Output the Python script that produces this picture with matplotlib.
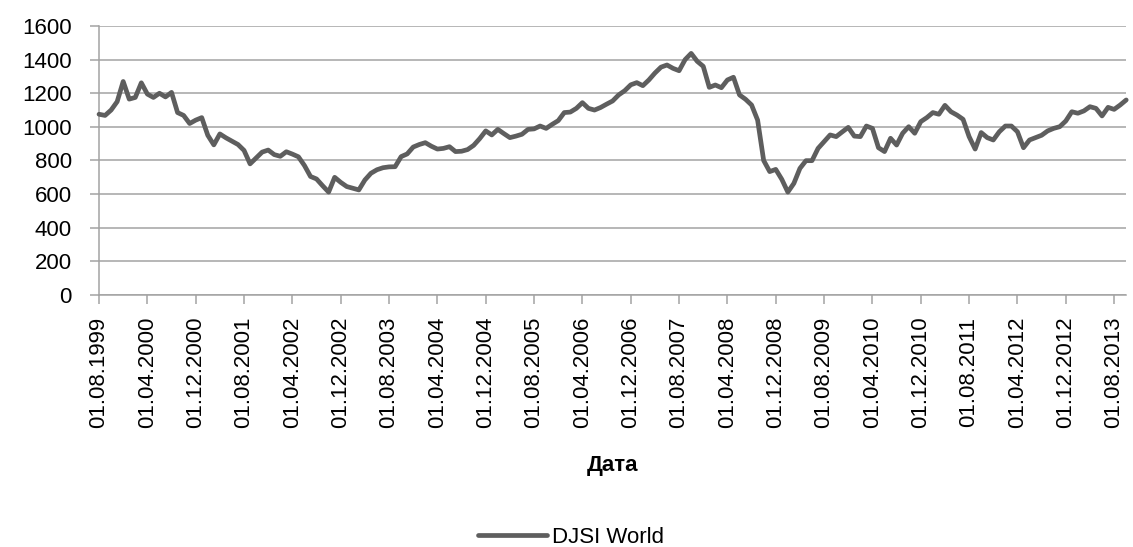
import matplotlib
matplotlib.use('Agg')
import matplotlib.pyplot as plt
import pandas as pd

# DJSI World, monthly values from 01.08.1999
djsi_world = [
    1075, 1068, 1100, 1150, 1270, 1165, 1175, 1262, 1195, 1175,
    1200, 1178, 1205, 1085, 1068, 1020, 1040, 1055, 950, 893,
    958, 935, 915, 895, 860, 780, 815, 850, 862, 835,
    825, 852, 838, 822, 770, 705, 690, 650, 612, 700,
    670, 645, 635, 625, 684, 724, 745, 757, 762, 763,
    823, 839, 880, 895, 906, 885, 868, 872, 882, 853,
    855, 865, 890, 930, 976, 952, 985, 960, 936, 945,
    956, 985, 988, 1005, 991, 1015, 1037, 1085, 1088, 1110,
    1144, 1110, 1100, 1115, 1135, 1154, 1190, 1215, 1250, 1263,
    1245, 1279, 1320, 1355, 1368, 1348, 1334, 1400, 1437, 1390,
    1360, 1235, 1249, 1233, 1279, 1295, 1190, 1164, 1130, 1040,
    800, 734, 747, 688, 612, 664, 753, 799, 799, 872,
    912, 952, 942, 970, 997, 945, 942, 1005, 991, 876,
    853, 932, 892, 962, 1001, 962, 1031, 1055, 1085, 1075,
    1128, 1090, 1070, 1045, 942, 868, 966, 936, 922, 971,
    1005, 1005, 971, 876, 922, 936, 950, 976, 991, 1001,
    1035, 1090, 1081, 1095, 1120, 1110, 1065, 1116, 1104, 1130,
    1160,
]

tick_labels = [
    '01.08.1999', '01.04.2000', '01.12.2000', '01.08.2001', '01.04.2002',
    '01.12.2002', '01.08.2003', '01.04.2004', '01.12.2004', '01.08.2005',
    '01.04.2006', '01.12.2006', '01.08.2007', '01.04.2008', '01.12.2008',
    '01.08.2009', '01.04.2010', '01.12.2010', '01.08.2011', '01.04.2012',
    '01.12.2012', '01.08.2013',
]

series_name = 'DJSI World'
x_title = 'Дата'

plt.rcParams['font.family'] = ['Liberation Sans', 'DejaVu Sans']

# Category axis: one slot per month
months = pd.date_range('1999-08-01', periods=len(djsi_world), freq='MS')
month_labels = [m.strftime('%d.%m.%Y') for m in months]
positions = list(range(len(months)))
tick_pos = [month_labels.index(t) for t in tick_labels]

fig = plt.figure(figsize=(11.33, 5.47), dpi=100)
ax = fig.add_axes([0.0874, 0.4607, 0.9066, 0.4918])

grid_col = '#a3a3a3'
line, = ax.plot(positions, djsi_world, color='#5e5e5e', lw=3.4,
                solid_joinstyle='round', solid_capstyle='round',
                clip_on=False, zorder=3)

ax.set_xlim(0, len(months) - 1)
ax.set_ylim(0, 1600)
ax.set_yticks(range(0, 1601, 200))
ax.yaxis.grid(True, color=grid_col, lw=1.1)
ax.set_axisbelow(True)

ax.set_xticks(tick_pos)
ax.set_xticklabels(tick_labels, rotation=90)

for side in ['top', 'right']:
    ax.spines[side].set_visible(False)
for side in ['left', 'bottom']:
    ax.spines[side].set_color(grid_col)
    ax.spines[side].set_linewidth(1.1)

ax.tick_params(axis='both', colors=grid_col, labelcolor='black',
               labelsize=16, length=6.5, width=1.1)
ax.tick_params(axis='y', pad=13)
ax.tick_params(axis='x', pad=9)

ax.set_xlabel(x_title, fontsize=16, fontweight='bold')
ax.xaxis.set_label_coords(0.5, -0.595)
ax.xaxis.label.set_va('top')

fig.legend([line], [series_name], loc='center', frameon=False,
           bbox_to_anchor=(0.504, 0.018), fontsize=16,
           handlelength=3.1, handletextpad=0.25)

fig.savefig('out.png', dpi=100)
